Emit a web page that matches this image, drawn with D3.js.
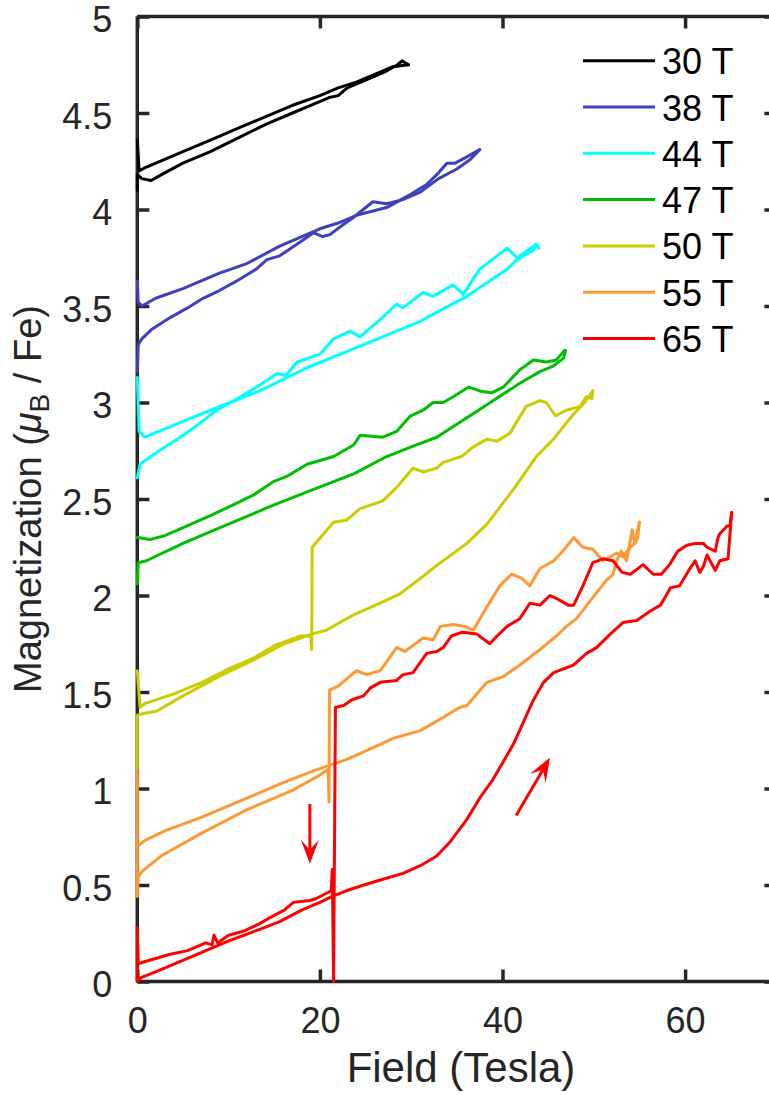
<!DOCTYPE html>
<html><head><meta charset="utf-8">
<script src="https://cdn.jsdelivr.net/npm/d3@7"></script>
<style>body{margin:0;background:#fff}svg{display:block}text{font-family:"Liberation Sans",Arial,Helvetica,sans-serif}</style>
</head><body>
<script>
// ---- data ----
const seriesLabels = ["30 T","38 T","44 T","47 T","50 T","55 T","65 T"];
const seriesColors = ["#000000","#4040bf","#00ffff","#00bf00","#cccc00","#ff9933","#ff0000"];
const xTicks = [0,20,40,60];
const yTicks = [0,0.5,1,1.5,2,2.5,3,3.5,4,4.5,5];
const yTickLabels = ["0","0.5","1","1.5","2","2.5","3","3.5","4","4.5","5"];

const up30 = [[0,4.10],[0,4.18],[0.5,4.16],[1.5,4.15],[3,4.19],[5,4.24],[8,4.30],[11,4.37],[14,4.44],[17,4.50],[19,4.54],[21,4.58],[22,4.59],[23,4.63],[25,4.67],[27,4.71],[28.5,4.75],[29,4.77],[29.7,4.75]];
const down30 = [[29.7,4.75],[28,4.74],[26,4.70],[24,4.66],[22,4.63],[20,4.59],[17,4.54],[14,4.48],[11,4.42],[8,4.36],[5,4.30],[3,4.26],[1,4.22],[0.2,4.20],[0,4.36]];

const up38 = [[0,3.16],[0.1,3.30],[0.5,3.33],[1.6,3.38],[3.6,3.44],[5.5,3.49],[7.2,3.54],[9,3.58],[10.9,3.63],[13,3.69],[14.2,3.74],[15.6,3.76],[17.8,3.83],[19.3,3.88],[20.3,3.86],[21.1,3.87],[22.5,3.92],[23.7,3.96],[25.8,4.04],[27.3,4.03],[29,4.05],[31,4.09],[33,4.16],[35,4.21],[36.5,4.26],[37.5,4.31]];
const down38 = [[37.5,4.31],[36,4.27],[34.8,4.24],[33.9,4.24],[33,4.19],[31.7,4.13],[30,4.08],[27.3,4.01],[24,3.97],[22,3.93],[20,3.90],[15.6,3.81],[12,3.72],[9,3.67],[5,3.59],[2,3.54],[0.5,3.50],[0.1,3.52],[0,3.63]];

const up44 = [[0,2.61],[0.3,2.68],[1.75,2.73],[4.7,2.82],[6.5,2.88],[8.7,2.96],[11,3.02],[13.4,3.09],[15.3,3.15],[16.3,3.14],[17.5,3.21],[20,3.25],[21.5,3.33],[23.3,3.37],[24.4,3.34],[26.6,3.43],[28.4,3.51],[29.1,3.49],[31.3,3.57],[32.4,3.55],[34.6,3.61],[35.7,3.56],[37.5,3.69],[40.5,3.80],[41.6,3.75],[43.7,3.82],[44,3.80]];
const down44 = [[43.7,3.82],[43.4,3.79],[41.6,3.74],[40.5,3.69],[38.3,3.62],[36.1,3.55],[31.7,3.44],[31,3.42],[24.8,3.30],[18.6,3.18],[13.4,3.06],[9.06,2.98],[5.4,2.91],[0.84,2.82],[0.2,2.85],[0,3.13]];

const up47 = [[0,2.06],[0.1,2.17],[1,2.18],[5,2.27],[9,2.35],[14.5,2.46],[19.3,2.55],[23.7,2.63],[27.3,2.72],[30,2.77],[32.8,2.82],[36.4,2.93],[39,3.01],[41.9,3.10],[44.1,3.16],[45.6,3.19],[46.7,3.23],[46.9,3.27]];
const down47 = [[46.8,3.27],[45.9,3.22],[44.8,3.21],[43.4,3.22],[41.9,3.17],[40.1,3.08],[38.8,3.05],[37.5,3.06],[36.3,3.08],[34.6,3.03],[33.5,3.00],[32.4,3.00],[31.3,2.96],[29.9,2.93],[28.4,2.85],[26.9,2.82],[24.4,2.83],[23.7,2.78],[21.5,2.72],[18.6,2.68],[16.5,2.62],[14.9,2.59],[12.7,2.52],[10.5,2.47],[8.3,2.42],[5.4,2.36],[3,2.31],[1.4,2.29],[0.1,2.30],[0,2.30]];

const up50 = [[0,1.10],[0,1.38],[0.8,1.39],[2.1,1.40],[5,1.48],[8.9,1.58],[12.9,1.67],[16.1,1.75],[19.1,1.80],[20.7,1.82],[23.7,1.90],[26.6,1.96],[28.8,2.01],[31.3,2.10],[33.2,2.17],[36.1,2.27],[38.3,2.37],[41.2,2.55],[43.7,2.72],[45.6,2.81],[47.6,2.93],[49,3.00],[49.9,3.06]];
const down50 = [[49.9,3.06],[49.8,3.02],[49.2,3.03],[48.5,2.98],[47.0,2.96],[45.8,2.93],[44.8,3.00],[44.1,3.01],[42.6,2.98],[40.8,2.84],[39.4,2.80],[38.3,2.81],[36.8,2.77],[35.5,2.72],[33.5,2.69],[32.8,2.66],[31.3,2.64],[30.2,2.66],[28.4,2.56],[26.9,2.49],[24.4,2.45],[22.9,2.39],[21.5,2.38],[19.15,2.25],[19.1,1.72],[19.0,1.79],[17.9,1.79],[15,1.74],[12.9,1.68],[10,1.62],[7.1,1.55],[4,1.49],[0.8,1.44],[0.3,1.42],[0,1.61]];

const up55 = [[0,0.70],[0.8,0.73],[3,0.78],[7,0.85],[12,0.95],[16,1.03],[19.2,1.09],[21,1.12],[22.9,1.15],[26.2,1.22],[28,1.26],[31,1.30],[33.2,1.36],[35.3,1.42],[36.1,1.43],[38.3,1.55],[40.1,1.58],[41.9,1.64],[44.1,1.72],[45.9,1.79],[47,1.84],[48.1,1.88],[49.9,1.99],[51.4,2.08],[52.1,2.11],[52.5,2.18],[53,2.23],[53.6,2.18],[54.2,2.34],[54.5,2.27],[55,2.38]];
const down55 = [[55,2.38],[54.8,2.30],[54.5,2.27],[54,2.25],[53.2,2.20],[52.5,2.22],[51,2.18],[49.9,2.24],[48.8,2.25],[47.8,2.30],[46.8,2.24],[45.6,2.18],[44.1,2.14],[43,2.05],[42.1,2.09],[41,2.11],[39.7,2.05],[37.9,1.91],[36.8,1.82],[35.9,1.84],[34.6,1.85],[33.2,1.84],[32.4,1.77],[31.3,1.78],[29.3,1.71],[28.4,1.73],[26.6,1.61],[25.1,1.59],[24,1.61],[22,1.53],[21.05,1.51],[21.0,0.93],[20.9,1.10],[20,1.07],[17,0.99],[12,0.89],[7.1,0.77],[2.6,0.65],[0.5,0.57],[0.1,0.54],[0,0.44],[0,1.09]];

const up65 = [[0,0],[0.4,0.02],[2,0.05],[4,0.09],[7,0.15],[10,0.21],[13.4,0.27],[15.6,0.31],[18,0.37],[20,0.41],[21.3,0.44],[22.9,0.47],[24.8,0.50],[26.9,0.53],[29.1,0.56],[31,0.60],[32.8,0.65],[34.2,0.72],[36.1,0.84],[37.5,0.95],[39,1.05],[41.2,1.23],[43.4,1.46],[44.5,1.55],[45.6,1.60],[47.8,1.64],[49.2,1.70],[50.3,1.73],[51.8,1.80],[53.2,1.86],[54.7,1.87],[56.2,1.92],[57.3,1.95],[58.4,2.04],[59.4,2.05],[60.4,2.13],[61.1,2.18],[61.6,2.12],[62.0,2.15],[62.4,2.21],[63.3,2.13],[63.8,2.18],[64.7,2.19],[65.1,2.43]];
const down65 = [[65.1,2.43],[64.9,2.36],[64.6,2.36],[63.8,2.32],[63.6,2.30],[63.3,2.23],[62.4,2.25],[62.0,2.27],[61.1,2.27],[60.2,2.26],[59.2,2.23],[58.3,2.16],[57.4,2.11],[56.5,2.11],[55.4,2.16],[54.0,2.11],[53.1,2.12],[52.1,2.18],[51.0,2.19],[49.9,2.17],[48.8,2.05],[47.8,1.95],[47.2,1.95],[46.1,1.98],[45.2,2.00],[44.1,1.95],[43.0,1.96],[41.9,1.88],[40.5,1.84],[39.4,1.79],[38.6,1.75],[37.2,1.80],[35.6,1.81],[34.4,1.79],[33.5,1.73],[32.8,1.71],[31.7,1.70],[30.2,1.60],[29.1,1.59],[28.4,1.56],[26.6,1.55],[25.5,1.52],[24.8,1.48],[23.5,1.46],[22.6,1.43],[21.7,1.42],[21.5,0],[21.4,0.40],[21.35,0.58],[21.25,0.47],[19.6,0.43],[18.9,0.42],[17.1,0.41],[16.1,0.37],[14.5,0.33],[13.4,0.30],[11.6,0.26],[10,0.24],[8.8,0.20],[8.4,0.24],[8.2,0.19],[7.5,0.20],[5.5,0.16],[3.5,0.14],[0.6,0.10],[0.1,0.09],[0,0.28],[0,0]];

const sweepsUp = [up30, up38, up44, up47, up50, up55, up65];
const sweepsDown = [down30, down38, down44, down47, down50, down55, down65];

// arrows (field, moment): from -> to
const arrowDown = [[18.9,0.92],[18.9,0.61]];
const arrowUp = [[41.5,0.86],[45.2,1.16]];

// ---- layout ----
const W = 769, H = 1095;
const L = 137.3, R = 776.4, T = 16.5, B = 981.5;
const axisColor = "#262626";

const svg = d3.select("body").append("svg").attr("width", W).attr("height", H);
const x = d3.scaleLinear().domain([0,70]).range([L,R]);
const y = d3.scaleLinear().domain([0,5]).range([B,T]);

const tickLen = 12;
const gx = svg.append("g").attr("transform",`translate(0,${B})`)
  .call(d3.axisBottom(x).tickValues(xTicks).tickSize(-tickLen).tickPadding(26).tickFormat(d3.format("d")));
const gxTop = svg.append("g").attr("transform",`translate(0,${T})`)
  .call(d3.axisTop(x).tickValues(xTicks).tickSize(-tickLen).tickFormat(""));
const gy = svg.append("g").attr("transform",`translate(${L},0)`)
  .call(d3.axisLeft(y).tickValues(yTicks).tickSize(-tickLen).tickPadding(25).tickFormat((d,i)=>yTickLabels[i]));
const gyR = svg.append("g").attr("transform",`translate(${R},0)`)
  .call(d3.axisRight(y).tickValues(yTicks).tickSize(-tickLen).tickFormat(""));
[gx,gxTop,gy,gyR].forEach(g=>{
  g.select(".domain").attr("stroke",axisColor).attr("stroke-width",3.5);
  g.selectAll(".tick line").attr("stroke",axisColor).attr("stroke-width",3.5);
  g.selectAll("text").attr("fill",axisColor).style("font-size","36px")
   .style("font-family",'"Liberation Sans",Arial,sans-serif');
});
gx.selectAll("text").attr("dy","0.71em");
gy.selectAll("text").attr("dy","0.42em");
[gx,gxTop].forEach(g=>g.select(".domain").attr("d",`M${L},0H${R}`));
[gy,gyR].forEach(g=>g.select(".domain").attr("d",`M0,${B}V${T}`));

// labels
svg.append("text").attr("x",461).attr("y",1082).attr("text-anchor","middle")
  .attr("fill",axisColor).style("font-size","42px").text("Field (Tesla)");
const yl = svg.append("text").attr("transform","translate(41,499) rotate(-90)")
  .attr("text-anchor","middle").attr("fill",axisColor).style("font-size","38px");
yl.append("tspan").text("Magnetization (");
yl.append("tspan").style("font-style","italic").text("\u03bc");
yl.append("tspan").attr("dy",8).style("font-size","28px").text("B");
yl.append("tspan").attr("dy",-8).text(" / Fe)");

// data lines
const line = d3.line().x(d=>x(d[0])).y(d=>y(d[1]));
const gData = svg.append("g");
seriesLabels.forEach((lab,i)=>{
  [sweepsUp[i], sweepsDown[i]].forEach(arr=>{
    gData.append("path").attr("d",line(arr)).attr("fill","none")
      .attr("stroke",seriesColors[i]).attr("stroke-width",3)
      .attr("stroke-linejoin","round").attr("stroke-linecap","round");
  });
});

// arrows
function drawArrow(a){
  const x0=x(a[0][0]), y0=y(a[0][1]), x1=x(a[1][0]), y1=y(a[1][1]);
  const ang=Math.atan2(y1-y0,x1-x0), hl=24, hw=9, notch=14;
  const ux=Math.cos(ang), uy=Math.sin(ang), px=-uy, py=ux;
  svg.append("line").attr("x1",x0).attr("y1",y0)
    .attr("x2",x1-ux*notch).attr("y2",y1-uy*notch)
    .attr("stroke","#ff0000").attr("stroke-width",3);
  const p=[[x1,y1],[x1-ux*hl+px*hw,y1-uy*hl+py*hw],[x1-ux*notch,y1-uy*notch],[x1-ux*hl-px*hw,y1-uy*hl-py*hw]];
  svg.append("path").attr("d","M"+p.map(q=>q.join(",")).join("L")+"Z").attr("fill","#ff0000");
}
drawArrow(arrowDown);
drawArrow(arrowUp);

// legend
const lg = svg.append("g");
seriesLabels.forEach((lab,i)=>{
  const yy = 60.7 + i*46.3;
  lg.append("line").attr("x1",583).attr("x2",655).attr("y1",yy).attr("y2",yy)
    .attr("stroke",seriesColors[i]).attr("stroke-width",3);
  lg.append("text").attr("x",662).attr("y",yy+13.5).attr("fill","#000")
    .style("font-size","36px").text(lab);
});
</script>
</body></html>
